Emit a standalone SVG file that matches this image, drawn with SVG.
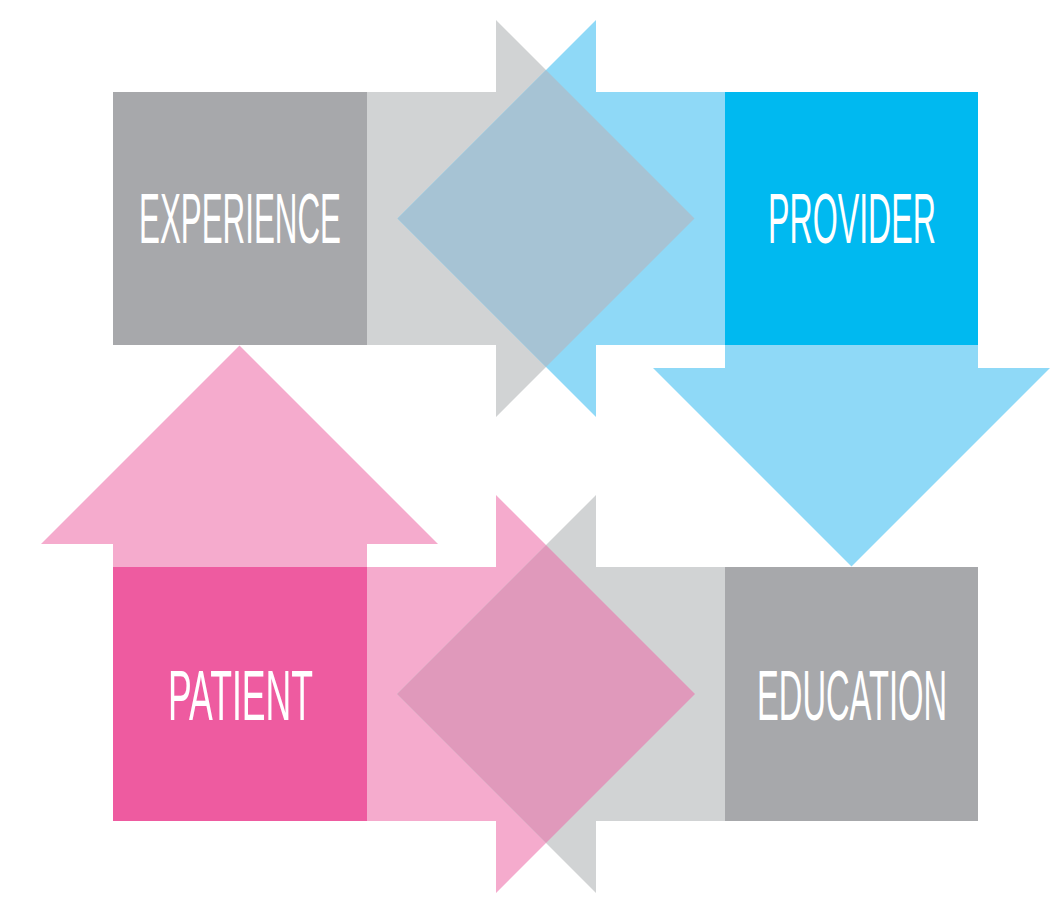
<svg xmlns="http://www.w3.org/2000/svg" width="1057" height="910" viewBox="0 0 1057 910">
  <style>
    .lgray{fill:#d1d3d4}
    .lblue{fill:#8fd9f7}
    .lpink{fill:#f5abcd}
    .ovblue{fill:#a6c3d4}
    .ovpink{fill:#e099bb}
    .label{font-family:"Liberation Sans Narrow","Liberation Sans",Arial,sans-serif;font-size:70px;fill:#ffffff}
  </style>
  <rect width="1057" height="910" fill="#ffffff"/>
  <g id="connectors">
    <polygon class="lgray" points="367,92 496,92 496,20 694.5,218.5 496,417 496,345 367,345"/>
    <polygon class="lblue" points="725,92 596,92 596,20 397.5,218.5 596,417 596,345 725,345"/>
    <polygon class="ovblue" points="397.5,218.5 546,70 694.5,218.5 546,367"/>
    <polygon class="lblue" points="725,345 978,345 978,368 1050,368 851.5,566.5 653,368 725,368"/>
    <polygon class="lpink" points="113,567 113,544 41,544 239.5,345.5 438,544 367,544 367,567"/>
    <polygon class="lpink" points="367,567 496,567 496,495 695,694 496,893 496,821 367,821"/>
    <polygon class="lgray" points="725,567 596,567 596,495 397,694 596,893 596,821 725,821"/>
    <polygon class="ovpink" points="397,694 546,545 695,694 546,843"/>
  </g>
  <g id="experience">
    <rect x="113" y="92" width="254" height="253" fill="#a7a8ab"/>
    <text class="label" transform="translate(139,243) scale(0.56,1)" x="0" y="0" textLength="360.7" lengthAdjust="spacingAndGlyphs">EXPERIENCE</text>
  </g>
  <g id="provider">
    <rect x="725" y="92" width="253" height="253" fill="#00b9f0"/>
    <text class="label" transform="translate(768,243) scale(0.56,1)" x="0" y="0" textLength="300" lengthAdjust="spacingAndGlyphs">PROVIDER</text>
  </g>
  <g id="patient">
    <rect x="113" y="567" width="254" height="254" fill="#ee5ba0"/>
    <text class="label" transform="translate(168,720) scale(0.56,1)" x="0" y="0" textLength="259" lengthAdjust="spacingAndGlyphs">PATIENT</text>
  </g>
  <g id="education">
    <rect x="725" y="567" width="253" height="254" fill="#a7a8ab"/>
    <text class="label" transform="translate(757,720) scale(0.56,1)" x="0" y="0" textLength="339.3" lengthAdjust="spacingAndGlyphs">EDUCATION</text>
  </g>
</svg>
